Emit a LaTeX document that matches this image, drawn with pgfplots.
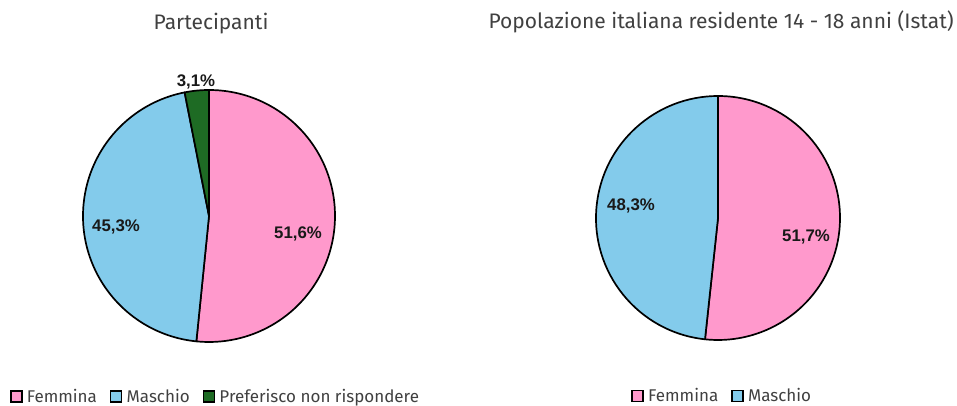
\documentclass[border=0pt]{standalone}
\usepackage{fontspec}
\setmainfont{Fira Sans}
\newfontfamily\lbfont{Liberation Sans}
\usepackage{pgfplots}
\usepackage{pgfplotstable}
\pgfplotsset{compat=1.18}

\definecolor{pinkF}{HTML}{FF99CC}
\definecolor{blueM}{HTML}{83CBEB}
\definecolor{greenP}{HTML}{1E6B24}
\definecolor{txt}{HTML}{404040}

% value = percent, lx/ly = label position (pt from centre)
\pgfplotstableread{
label value color lx ly
Femmina 51.6 pinkF 89 -18
Maschio 45.3 blueM -93 -10.5
Preferisco 3.1 greenP -13 134
}\partdata

\pgfplotstableread{
label value color lx ly
Femmina 51.7 pinkF 88 -18.5
Maschio 48.3 blueM -87 12
}\istatdata

\newcommand\lblfont{\lbfont\bfseries\fontsize{16.8}{19}\selectfont}

% wedges clockwise from 12 o'clock
\newcommand{\drawpie}[2]{%
  \pgfplotstablegetrowsof{#1}\pgfmathtruncatemacro\nrows{\pgfplotsretval-1}%
  \def\startang{90}%
  \pgfplotsforeachungrouped \i in {0,...,\nrows}{%
    \pgfplotstablegetelem{\i}{value}\of{#1}\let\val\pgfplotsretval
    \pgfplotstablegetelem{\i}{color}\of{#1}\let\col\pgfplotsretval
    \pgfplotstablegetelem{\i}{lx}\of{#1}\let\lx\pgfplotsretval
    \pgfplotstablegetelem{\i}{ly}\of{#1}\let\ly\pgfplotsretval
    \pgfmathsetmacro\endang{\startang-3.6*\val}%
    \pgfmathsetmacro\sx{#2*cos(\startang)}%
    \pgfmathsetmacro\sy{#2*sin(\startang)}%
    \edef\temp{\noexpand\filldraw[fill=\col, draw=black, line width=1.7pt, line join=round]
      (axis cs:0,0) -- (axis cs:\sx,\sy) arc[start angle=\startang, end angle=\endang, radius=#2pt] -- cycle;
      \noexpand\node[font=\noexpand\lblfont, text=black!90] at (axis cs:\lx,\ly)
      {\noexpand\pgfmathprintnumber[assume math mode=true, use comma, fixed, precision=1, fixed zerofill]{\val}\noexpand\%};}%
    \temp
    \let\startang\endang
  }%
}

\pgfplotsset{
  pieaxis/.style={
    hide axis, clip=false, x=1pt, y=1pt,
    xmin=-130, xmax=130, ymin=-130, ymax=130,
    anchor=origin,
    title style={font=\fontsize{21}{24}\selectfont, text=txt},
    legend style={draw=none, fill=none, inner sep=0pt, anchor=west,
      font=\fontsize{17}{20}\selectfont, text=txt,
      /tikz/every even column/.append style={column sep=11pt}},
    legend columns=-1,
  },
  sq/.style={legend image code/.code={\draw[fill=#1, line width=1.5pt] (0pt,-5.5pt) rectangle (11pt,5.5pt); \path[draw=none, fill=none] (14pt,0pt);}},
}

\begin{document}
\begin{tikzpicture}
\path[use as bounding box] (0,0) rectangle (957pt,406pt);

\begin{axis}[pieaxis, at={(209pt,190pt)},
  title={Partecipanti}, title style={at={(0.508,1.219)}, anchor=center},
  legend style={at={(-0.266,-0.195)}}]
  \addlegendimage{sq=pinkF}\addlegendentry{Femmina}
  \addlegendimage{sq=blueM}\addlegendentry{Maschio}
  \addlegendimage{sq=greenP}\addlegendentry{Preferisco non rispondere}
  \drawpie{\partdata}{126}
\end{axis}

\begin{axis}[pieaxis, at={(718pt,188pt)},
  title={Popolazione italiana residente 14 - 18 anni (Istat)}, title style={at={(0.512,1.231)}, anchor=center},
  legend style={at={(0.166,-0.185)}}]
  \addlegendimage{sq=pinkF}\addlegendentry{Femmina}
  \addlegendimage{sq=blueM}\addlegendentry{Maschio}
  \drawpie{\istatdata}{122}
\end{axis}
\end{tikzpicture}
\end{document}
